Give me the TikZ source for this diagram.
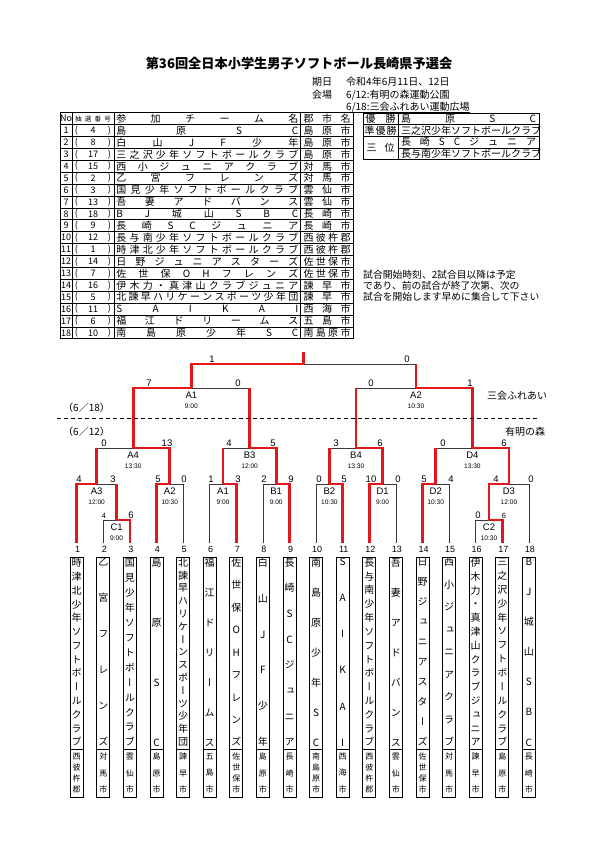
\documentclass[tikz,border=0pt]{standalone}
\usepackage{fontspec}
\setmainfont{Noto Sans CJK JP}
\newfontfamily\vjp[RawFeature=+vert]{Noto Sans CJK JP}
\newfontfamily\arialfont{Liberation Sans}
\usetikzlibrary{calc}
\definecolor{WinRed}{HTML}{E3161C}
\definecolor{LineGray}{HTML}{3A3A3A}
\newcommand\hcancel{\hskip 0pt plus -1fil}
\newcommand\vcancel{\vskip 0pt plus -1fil}
\ExplSyntaxOn
\NewDocumentCommand\spreadh{mm}
 {
  \tl_set:Nx \l_tmpa_tl {#2}
  \makebox[#1][s]{\tl_map_inline:Nn \l_tmpa_tl {##1\hfil}\hcancel}
 }
\NewDocumentCommand\spreadv{mm}
 {
  \tl_set:Nx \l_tmpa_tl {#2}
  \vbox to #1 {\tl_map_inline:Nn \l_tmpa_tl {\hbox to 14pt {\hss ##1\hss}\vfil}\vcancel}
 }
\ExplSyntaxOff
\tikzset{
  titletext/.style={font=\fontsize{13.2}{14}\selectfont\bfseries,inner sep=0pt},
  infotext/.style={font=\fontsize{10}{11}\selectfont,anchor=west,inner sep=0pt},
  notetext/.style={font=\fontsize{9.8}{11}\selectfont,anchor=west,inner sep=0pt},
  tabframe/.style={draw=black,line width=0.9pt},
  tabgrid/.style={draw=black,line width=0.5pt},
  cellnum/.style={font=\fontsize{9}{10}\selectfont,inner sep=0pt},
  celltext/.style={font=\fontsize{10}{10}\selectfont,inner sep=0pt},
  tinyhead/.style={font=\fontsize{6.5}{7}\selectfont,inner sep=0pt},
  winline/.style={draw=WinRed,line width=2.8pt},
  loseline/.style={draw=LineGray,line width=0.6pt},
  score/.style={font=\arialfont\fontsize{9.5}{10}\selectfont,inner sep=0pt,anchor=south},
  smallscore/.style={score,font=\arialfont\fontsize{7.5}{8}\selectfont},
  matchlab/.style={font=\arialfont\fontsize{9.5}{10}\selectfont,inner sep=0pt},
  timelab/.style={font=\arialfont\fontsize{6.6}{7}\selectfont,inner sep=0pt},
  numlab/.style={font=\arialfont\fontsize{9}{10}\selectfont,inner sep=0pt},
  teamframe/.style={draw=black,line width=0.9pt},
  vname/.style={anchor=north,inner sep=0pt,font=\vjp\fontsize{10}{10}\selectfont},
  vcity/.style={anchor=north,inner sep=0pt,font=\vjp\fontsize{8}{8}\selectfont},
  sidelab/.style={font=\fontsize{10}{11}\selectfont,anchor=west,inner sep=0pt},
}
\begin{document}
\begin{tikzpicture}[x=1pt,y=-1pt]
  \useasboundingbox (0,0) rectangle (595,842);
  \fill[white] (0,0) rectangle (595,842);
  % heading
  \node[titletext] (title) at (299,63) {第36回全日本小学生男子ソフトボール長崎県予選会};
  \node[infotext] (datekey) at (312,82) {期日};
  \node[infotext] (dateval) at (346,82) {令和4年6月11日、12日};
  \node[infotext] (sitekey) at (312,95) {会場};
  \node[infotext] (site1) at (346,95) {6/12:有明の森運動公園};
  \node[infotext] (site2) at (346,107) {6/18:三会ふれあい運動広場};
  \draw[line width=0.5pt] (site2.south west) -- (site2.south east);
  % entry table
  \draw[tabframe] (60,112.6) rectangle (353,338.8);
  \foreach \gx in {72,114,300.5}
    \draw[tabgrid] (\gx,112.6) -- (\gx,338.8);
  \foreach \gr in {0,...,17}
    \draw[tabgrid] (60,124.5+11.9*\gr) -- (353,124.5+11.9*\gr);
  \node[cellnum] (hno) at (66,118.6) {No};
  \node[tinyhead] (hdraw) at (93,118.6) {\spreadh{36pt}{抽選番号}};
  \node[celltext] (hname) at (207.3,118.6) {\spreadh{182pt}{参加チーム名}};
  \node[celltext] (hcity) at (327,118.6) {\spreadh{47pt}{郡市名}};
  \foreach \dr/\nm/\ct [count=\rw] in {4/島原SC/島原市, 8/白山JF少年/島原市,
      17/三之沢少年ソフトボールクラブ/島原市, 15/西小ジュニアクラブ/対馬市,
      2/乙宮フレンズ/対馬市, 3/国見少年ソフトボールクラブ/雲仙市,
      13/吾妻アドバンス/雲仙市, 18/BJ城山SBC/長崎市, 9/長崎SCジュニア/長崎市,
      12/長与南少年ソフトボールクラブ/西彼杵郡, 1/時津北少年ソフトボールクラブ/西彼杵郡,
      14/日野ジュニアスターズ/佐世保市, 7/佐世保OHフレンズ/佐世保市,
      16/伊木力・真津山クラブジュニア/諫早市, 5/北諫早ハリケーンスポーツ少年団/諫早市,
      11/SAIKAI/西海市, 6/福江ドリームス/五島市, 10/南島原少年SC/南島原市} {
    \pgfmathsetmacro\ry{130.5+11.9*(\rw-1)}
    \node[cellnum] (no\rw) at (66,\ry) {\rw};
    \node[cellnum] (lp\rw) at (76.5,\ry) {(};
    \node[cellnum] (dr\rw) at (93,\ry) {\dr};
    \node[cellnum] (rp\rw) at (109.5,\ry) {)};
    \node[celltext] (ent\rw) at (207.3,\ry) {\spreadh{182pt}{\nm}};
    \node[celltext] (entct\rw) at (327,\ry) {\spreadh{47pt}{\ct}};
  }
  % result table
  \draw[tabframe] (363,113) rectangle (539,159.4);
  \draw[tabgrid] (398,113) -- (398,159.4);
  \draw[tabgrid] (363,124.6) -- (539,124.6);
  \draw[tabgrid] (363,136.2) -- (539,136.2);
  \draw[tabgrid] (398,147.8) -- (539,147.8);
  \node[celltext] (rk1) at (380.5,118.8) {\spreadh{30pt}{優勝}};
  \node[celltext] (rk2) at (380.5,130.4) {\spreadh{32pt}{準優勝}};
  \node[celltext] (rk3) at (380.5,147.8) {\spreadh{28pt}{三位}};
  \node[celltext] (rt1) at (468.5,118.8) {\spreadh{135pt}{島原SC}};
  \node[celltext] (rt2) at (468.5,130.4) {\spreadh{135pt}{三之沢少年ソフトボールクラブ}};
  \node[celltext] (rt3) at (468.5,142) {\spreadh{135pt}{長崎SCジュニア}};
  \node[celltext] (rt4) at (468.5,153.6) {\spreadh{135pt}{長与南少年ソフトボールクラブ}};
  % note
  \node[notetext] (note1) at (363,275) {試合開始時刻、2試合目以降は予定};
  \node[notetext] (note2) at (363,286) {であり、前の試合が終了次第、次の};
  \node[notetext] (note3) at (363,297) {試合を開始します早めに集合して下さい};
  % teams
  \foreach \nm/\ct [count=\i] in {時津北少年ソフトボールクラブ/西彼杵郡, 乙宮フレンズ/対馬市,
      国見少年ソフトボールクラブ/雲仙市, 島原SC/島原市, 北諫早ハリケーンスポーツ少年団/諫早市,
      福江ドリームス/五島市, 佐世保OHフレンズ/佐世保市, 白山JF少年/島原市,
      長崎SCジュニア/長崎市, 南島原少年SC/南島原市, SAIKAI/西海市,
      長与南少年ソフトボールクラブ/西彼杵郡, 吾妻アドバンス/雲仙市, 日野ジュニアスターズ/佐世保市,
      西小ジュニアクラブ/対馬市, 伊木力・真津山クラブジュニア/諫早市,
      三之沢少年ソフトボールクラブ/島原市, BJ城山SBC/長崎市} {
    \pgfmathsetmacro\tx{76.7+26.6*(\i-1)}
    \coordinate (t\i) at (\tx,543);
    \node[numlab] (n\i) at (\tx+1,549) {\i};
    \draw[teamframe] (\tx-6.5,557) rectangle (\tx+6.5,797);
    \draw[teamframe] (\tx-6.5,749) -- (\tx+6.5,749);
    \node[vname] (tn\i) at (\tx,558) {\spreadv{188pt}{\nm}};
    \node[vcity] (tc\i) at (\tx,753) {\spreadv{40pt}{\ct}};
  }
  % match points
  \coordinate (c1) at (116.6,520);
  \coordinate (c2) at (489,520);
  \coordinate (a3) at (96.65,484);
  \coordinate (a2) at (169.8,484);
  \coordinate (a1) at (223,484);
  \coordinate (b1) at (276.2,484);
  \coordinate (b2) at (329.4,484);
  \coordinate (d1) at (382.6,484);
  \coordinate (d2) at (435.8,484);
  \coordinate (d3) at (508.95,484);
  \coordinate (a4) at (133.2,448);
  \coordinate (b3) at (249.6,448);
  \coordinate (b4) at (356,448);
  \coordinate (d4) at (472.4,448);
  \coordinate (sfA1) at (191.4,388);
  \coordinate (sfA2) at (416,388);
  \coordinate (fin) at (303.7,364);
  \coordinate (champ) at (303.7,352);
  % black lines first
  \draw[loseline] (t2) |- (c1);
  \draw[loseline] (t16) |- (c2);
  \draw[loseline] (c1 |- a3) -- (a3);
  \draw[loseline] (t5) |- (a2);
  \draw[loseline] (t6) |- (a1);
  \draw[loseline] (t8) |- (b1);
  \draw[loseline] (t10) |- (b2);
  \draw[loseline] (t13) |- (d1);
  \draw[loseline] (t15) |- (d2);
  \draw[loseline] (t18) |- (d3);
  \draw[loseline] (a3 |- a4) -- (a4);
  \draw[loseline] (a1 |- b3) -- (b3);
  \draw[loseline] (b2 |- b4) -- (b4);
  \draw[loseline] (d2 |- d4) -- (d4);
  \draw[loseline] (b3 |- sfA1) -- (sfA1);
  \draw[loseline] (b4 |- sfA2) -- (sfA2);
  \draw[loseline] (sfA2 |- fin) -- (fin);
  % red winning paths
  \draw[winline] (t3) |- (c1);
  \draw[winline] (t17) |- (c2);
  \draw[winline] (t1) |- (a3);
  \draw[winline] (c1) -- (c1 |- a3);
  \draw[winline] (t4) |- (a2);
  \draw[winline] (t7) |- (a1);
  \draw[winline] (t9) |- (b1);
  \draw[winline] (t11) |- (b2);
  \draw[winline] (t12) |- (d1);
  \draw[winline] (t14) |- (d2);
  \draw[winline] (c2) |- (d3);
  \draw[winline] (a2) |- (a4);
  \draw[winline] (a3) -- (a3 |- a4);
  \draw[winline] (b1) |- (b3);
  \draw[winline] (a1) -- (a1 |- b3);
  \draw[winline] (d1) |- (b4);
  \draw[winline] (b2) -- (b2 |- b4);
  \draw[winline] (d3) |- (d4);
  \draw[winline] (d2) -- (d2 |- d4);
  \draw[winline] (a4) |- (sfA1);
  \draw[winline] (b3) -- (b3 |- sfA1);
  \draw[winline] (d4) |- (sfA2);
  \draw[winline] (b4) -- (b4 |- sfA2);
  \draw[winline] (sfA1) |- (fin);
  \draw[winline] (sfA2) -- (sfA2 |- fin);
  \draw[winline] (fin) -- (champ);
  % match names and times
  \foreach \m/\lab/\tm in {c1/C1/9:00, c2/C2/10:30, a3/A3/12:00, a2/A2/10:30, a1/A1/9:00,
      b1/B1/9:00, b2/B2/10:30, d1/D1/9:00, d2/D2/10:30, d3/D3/12:00, a4/A4/13:30,
      b3/B3/12:00, b4/B4/13:30, d4/D4/13:30, sfA1/A1/9:00, sfA2/A2/10:30} {
    \node[matchlab] (lab\m) at ($(\m)+(0,7.5)$) {\lab};
    \node[timelab] (tm\m) at ($(\m)+(0,18.5)$) {\tm};
  }
  % scores
  \node[smallscore] (sc1) at (104,519) {4};
  \node[score] (sc2) at (131,519) {6};
  \node[score] (sc3) at (478,519) {0};
  \node[smallscore] (sc4) at (504,519) {6};
  \foreach \sx/\sy/\sv [count=\k] in {79/483/4, 113/483/3, 158/483/5, 184/483/0, 211/483/1,
      238/483/3, 264/483/2, 291/483/9, 319/483/0, 344/483/5, 371/483/10, 398/483/0,
      424/483/5, 451/483/4, 496/483/4, 531/483/0, 104/447/0, 167/447/13, 229/447/4,
      273/447/5, 336/447/3, 380/447/6, 443/447/0, 504/447/6, 149/387/7, 238/387/0,
      371/387/0, 470/387/1, 212/363/1, 407/363/0}
    \node[score] (pt\k) at (\sx,\sy) {\sv};
  % day split
  \draw[dash pattern=on 4pt off 3pt,line width=0.8pt] (57,418) -- (538,418);
  \node[sidelab] (day2) at (63,408) {（6／18）};
  \node[sidelab] (day1) at (63,432) {（6／12）};
  \node[sidelab] (venue2) at (487,396) {三会ふれあい};
  \node[sidelab] (venue1) at (505,432) {有明の森};
\end{tikzpicture}
\end{document}
